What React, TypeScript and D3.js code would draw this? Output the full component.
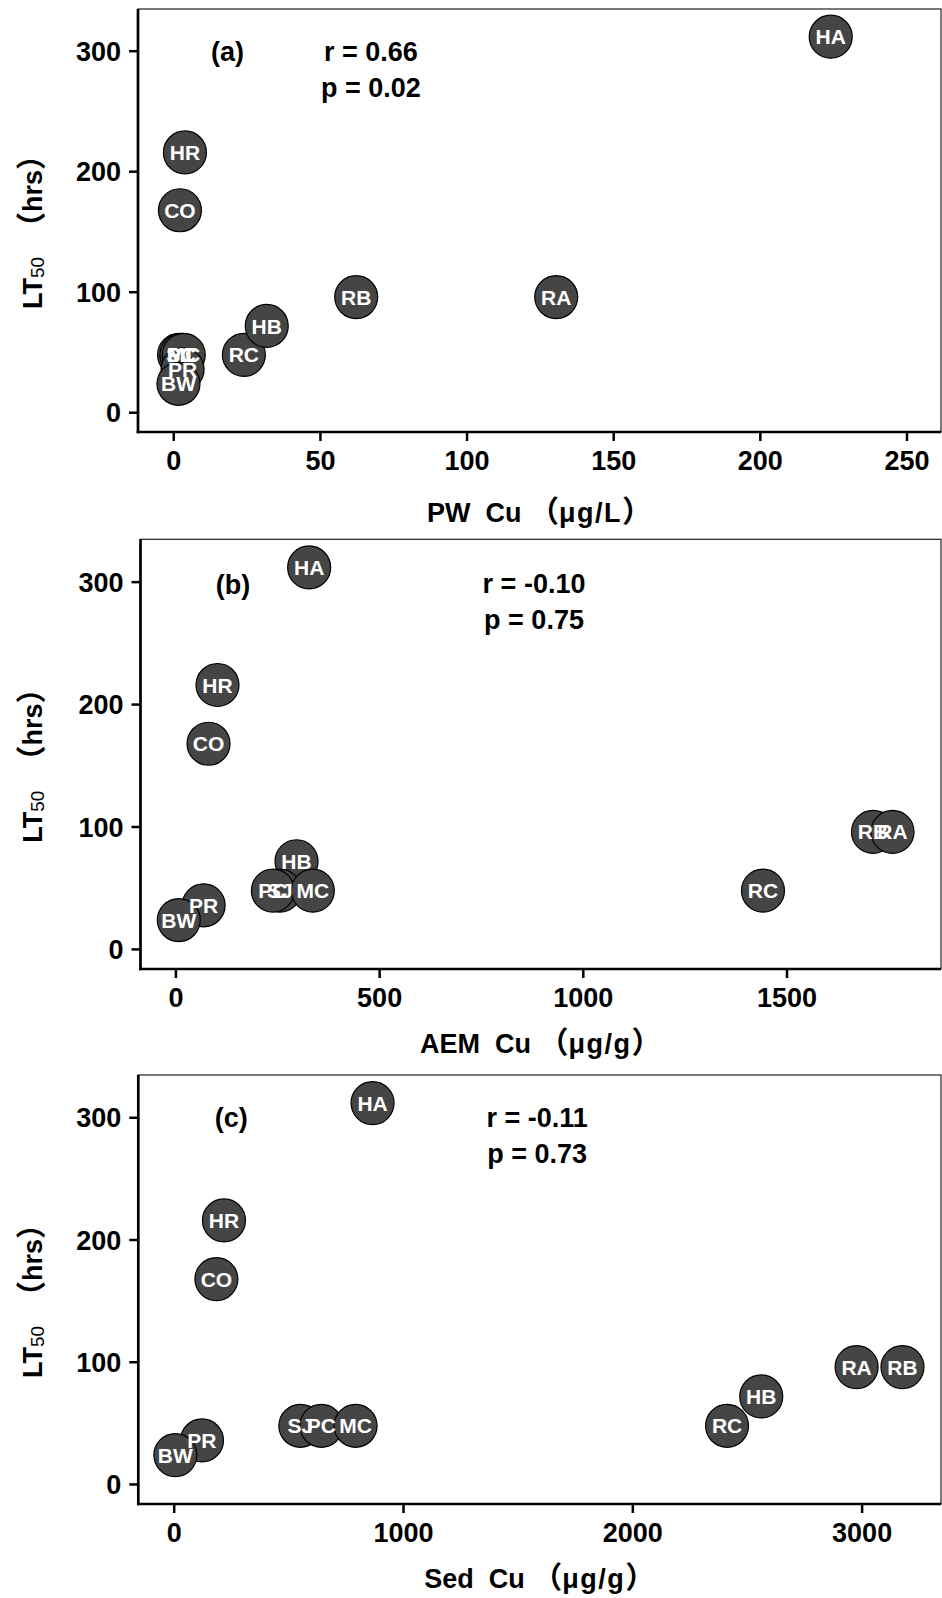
import React from 'react';
import * as d3 from 'd3';

// site codes and LT50 (hrs), same order in every panel
const sites = ['HA', 'HR', 'CO', 'RC', 'HB', 'SJ', 'PC', 'MC', 'RB', 'RA', 'PR', 'BW'];
const lt50 = [312, 216, 168, 48, 72, 48, 48, 48, 96, 96, 36, 24];

// copper values per matrix
const pwCu = [224, 3.8, 2.1, 23.9, 31.7, 1.8, 2.6, 3.4, 62.2, 130.4, 3.0, 1.6];
const aemCu = [327, 102, 80, 1441, 296, 255, 238, 336, 1711, 1759, 68, 7];
const sedCu = [865, 217, 184, 2411, 2560, 550, 642, 791, 3176, 2976, 121, 5];

const yTicks = [0, 100, 200, 300];
const pwTicks = [0, 50, 100, 150, 200, 250];
const aemTicks = [0, 500, 1000, 1500];
const sedTicks = [0, 1000, 2000, 3000];

const FONT = '"Liberation Sans", Arial, "Noto Sans CJK SC", sans-serif';

const panels = [
  {
    tag: '(a)', r: 'r = 0.66', p: 'p = 0.02', title: ['PW', 'μg/L'],
    xs: pwCu, ticks: pwTicks, xDomain: [-12.2, 261.6],
    box: { left: 138, right: 941, top: 9, bottom: 432 }, titleGap: 90,
    tagPos: [18.3, 300], statPos: [67.2, 300],
  },
  {
    tag: '(b)', r: 'r = -0.10', p: 'p = 0.75', title: ['AEM', 'μg/g'],
    xs: aemCu, ticks: aemTicks, xDomain: [-87, 1878],
    box: { left: 140.5, right: 941, top: 539.3, bottom: 969 }, titleGap: 84,
    tagPos: [140, 298], statPos: [879, 299],
  },
  {
    tag: '(c)', r: 'r = -0.11', p: 'p = 0.73', title: ['Sed', 'μg/g'],
    xs: sedCu, ticks: sedTicks, xDomain: [-156.6, 3344],
    box: { left: 138.3, right: 941, top: 1075, bottom: 1504 }, titleGap: 84,
    tagPos: [249, 300], statPos: [1583, 300],
  },
];

const Panel = ({ cfg }: { cfg: any }) => {
  const { box } = cfg;
  const x = d3.scaleLinear().domain(cfg.xDomain).range([box.left, box.right]);
  const y = d3.scaleLinear().domain([-16, 335]).range([box.bottom, box.top]);
  const cx = (box.left + box.right) / 2;
  const cy = (box.top + box.bottom) / 2;

  return (
    <g fontFamily={FONT} fontWeight="bold">
      {/* thin frame */}
      <rect x={box.left} y={box.top} width={box.right - box.left} height={box.bottom - box.top}
        fill="none" stroke="#222" strokeWidth={1.2} />
      {/* axis lines */}
      <line x1={box.left} x2={box.left} y1={box.top} y2={box.bottom + 1.3} stroke="#000" strokeWidth={2.7} />
      <line x1={box.left - 1.3} x2={box.right} y1={box.bottom} y2={box.bottom} stroke="#000" strokeWidth={2.7} />

      {yTicks.map(t => (
        <g key={'y' + t}>
          <line x1={box.left - 9} x2={box.left} y1={y(t)} y2={y(t)} stroke="#000" strokeWidth={2.5} />
          <text x={box.left - 17} y={y(t)} dy="0.36em" textAnchor="end" fontSize={27}>{t}</text>
        </g>
      ))}
      {cfg.ticks.map((t: number) => (
        <g key={'x' + t}>
          <line x1={x(t)} x2={x(t)} y1={box.bottom} y2={box.bottom + 9} stroke="#000" strokeWidth={2.5} />
          <text x={x(t)} y={box.bottom + 38} textAnchor="middle" fontSize={27}>{t}</text>
        </g>
      ))}

      {/* points first, labels on top */}
      {sites.map((s, i) => (
        <circle key={s} cx={x(cfg.xs[i])} cy={y(lt50[i])} r={21.5} fill="#454545" stroke="#000" strokeWidth={1.2} />
      ))}
      {sites.map((s, i) => (
        <text key={'l' + s} x={x(cfg.xs[i])} y={y(lt50[i])} dy="0.36em" textAnchor="middle" fontSize={21} fill="#fff">{s}</text>
      ))}

      <text x={x(cfg.tagPos[0])} y={y(cfg.tagPos[1])} dy="0.36em" textAnchor="middle" fontSize={27}>{cfg.tag}</text>
      <text x={x(cfg.statPos[0])} y={y(cfg.statPos[1])} dy="0.36em" textAnchor="middle" fontSize={27}>{cfg.r}</text>
      <text x={x(cfg.statPos[0])} y={y(cfg.statPos[1]) + 36} dy="0.36em" textAnchor="middle" fontSize={27}>{cfg.p}</text>

      {/* x title */}
      <text x={cx} y={box.bottom + cfg.titleGap} textAnchor="middle" fontSize={27} style={{ whiteSpace: 'pre' }}>
        <tspan>{cfg.title[0] + '  Cu '}</tspan>
        <tspan fontSize={30}>（</tspan>
        <tspan letterSpacing={1.5}>{cfg.title[1]}</tspan>
        <tspan fontSize={30}>）</tspan>
      </text>
      {/* y title */}
      <text transform={`translate(42,${cy + 4}) rotate(-90)`} textAnchor="middle" fontSize={27} style={{ whiteSpace: 'pre' }}>
        <tspan>LT</tspan>
        <tspan fontWeight="normal" fontSize={19} dy={2}>50</tspan>
        <tspan dy={-2}>{'  '}</tspan>
        <tspan fontSize={30}>（</tspan>
        <tspan>hrs</tspan>
        <tspan fontSize={30}>）</tspan>
      </text>
    </g>
  );
};

export default function App() {
  return (
    <svg width={942} height={1598} style={{ position: 'absolute', left: 0, top: 0, background: '#fff' }}>
      <rect width={942} height={1598} fill="#fff" />
      {panels.map(p => <Panel key={p.tag} cfg={p} />)}
    </svg>
  );
}
